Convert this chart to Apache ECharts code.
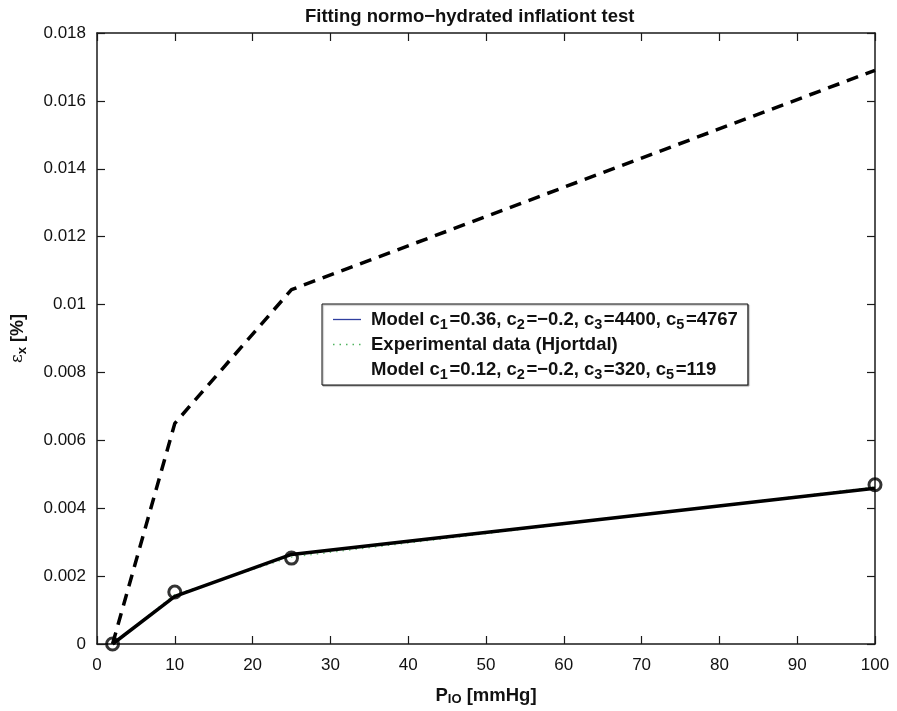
<!DOCTYPE html>
<html>
<head>
<meta charset="utf-8">
<script src="https://cdn.jsdelivr.net/npm/echarts@6/dist/echarts.min.js"></script>
<style>
  html, body { margin: 0; padding: 0; background: #fff; }
  #chart { width: 897px; height: 711px; }
</style>
</head>
<body>
<div id="chart"></div>
<script>
  // pressure values, mmHg
  var pressure = [2, 10, 25, 100];
  // model 1 (thick solid)
  var model1 = [0, 0.00140, 0.00264, 0.00459];
  // experimental data (green dotted + circles)
  var expLine = [0, 0.00146, 0.00256, 0.00463];
  var expPoints = [0, 0.00153, 0.00253, 0.00469];
  // model 2 (dashed)
  var model2 = [0, 0.0065, 0.01044, 0.0169];

  var name1 = 'Model c1=0.36, c2=\u22120.2, c3=4400, c5=4767';
  var name2 = 'Experimental data (Hjortdal)';
  var name3 = 'Model c1=0.12, c2=\u22120.2, c3=320, c5=119';
  var richNames = {};
  richNames[name1] = 'Model c{s|1}=0.36, c{s|2}=\u22120.2, c{s|3}=4400, c{s|5}=4767';
  richNames[name2] = 'Experimental data (Hjortdal){s| }';
  richNames[name3] = 'Model c{s|1}=0.12, c{s|2}=\u22120.2, c{s|3}=320, c{s|5}=119';

  function pairs(ys) {
    return pressure.map(function (x, i) { return [x, ys[i]]; });
  }

  var font = 'Liberation Sans, Arial, Helvetica, sans-serif';
  var axisLine = { onZero: false, lineStyle: { color: '#1a1a1a', width: 1.5 } };
  var axisTick = { inside: true, length: 8, lineStyle: { color: '#1a1a1a', width: 1.2 } };

  var chart = echarts.init(document.getElementById('chart'));
  chart.setOption({
    animation: false,
    textStyle: { fontFamily: font },
    // 标题
    title: {
      text: 'Fitting normo\u2212hydrated inflationt test',
      left: 300,
      top: 2,
      textStyle: { fontSize: 18.5, fontWeight: 'bold', color: '#111', fontFamily: font }
    },
    grid: {
      left: 97,
      right: 22,
      top: 33,
      bottom: 64
    },
    // 图例
    legend: {
      orient: 'vertical',
      left: 322,
      top: 304,
      padding: [3, 10, 3, 10],
      itemGap: 0,
      itemWidth: 28,
      itemHeight: 14,
      backgroundColor: '#fff',
      borderColor: '#111',
      borderWidth: 1,
      shadowColor: 'rgba(0,0,0,0.35)',
      shadowOffsetX: 1,
      shadowOffsetY: 1,
      shadowBlur: 1,
      selectedMode: false,
      formatter: function (n) { return richNames[n]; },
      textStyle: {
        fontSize: 18.5,
        lineHeight: 24,
        fontWeight: 'bold',
        color: '#111',
        fontFamily: font,
        padding: [0, 0, 0, 5],
        rich: {
          s: { fontSize: 14.5, lineHeight: 12, fontWeight: 'bold', padding: [10, 1.5, 0, 0], fontFamily: font }
        }
      },
      data: [
        { name: name1, itemStyle: { opacity: 0 }, lineStyle: { color: '#2f3f9f', width: 1.3, type: 'solid' } },
        { name: name2, itemStyle: { opacity: 0 }, lineStyle: { color: '#4fb35f', width: 1.5, type: [1.5, 5] } },
        { name: name3, itemStyle: { opacity: 0 }, lineStyle: { opacity: 0 } }
      ]
    },
    // X轴
    xAxis: [{
      type: 'value',
      min: 0,
      max: 100,
      interval: 10,
      name: 'P{s|IO} [mmHg]',
      nameLocation: 'middle',
      nameGap: 42,
      nameTextStyle: {
        fontSize: 18.5, fontWeight: 'bold', color: '#111', fontFamily: font,
        rich: { s: { fontSize: 13, fontWeight: 'bold', padding: [0, 0, -8, 0], fontFamily: font } }
      },
      axisLine: axisLine,
      axisTick: axisTick,
      axisLabel: { fontSize: 17, color: '#111', margin: 13 },
      splitLine: { show: false }
    }, {
      type: 'value',
      position: 'top',
      min: 0,
      max: 100,
      interval: 10,
      axisLine: axisLine,
      axisTick: axisTick,
      axisLabel: { show: false },
      splitLine: { show: false }
    }],
    // Y轴
    yAxis: [{
      type: 'value',
      min: 0,
      max: 0.018,
      interval: 0.002,
      name: '{e|\u03b5}{s|x} [%]',
      nameLocation: 'middle',
      nameRotate: 90,
      nameGap: 70,
      nameTextStyle: {
        fontSize: 18, fontWeight: 'bold', color: '#111', fontFamily: font,
        rich: {
          e: { fontSize: 17, fontWeight: 'normal', fontFamily: 'DejaVu Serif, serif' },
          s: { fontSize: 13, fontWeight: 'bold', padding: [0, 0, -8, 0], fontFamily: font }
        }
      },
      axisLine: axisLine,
      axisTick: axisTick,
      axisLabel: {
        fontSize: 17,
        color: '#111',
        margin: 11,
        formatter: function (v) { return String(parseFloat(v.toFixed(3))); }
      },
      splitLine: { show: false }
    }, {
      type: 'value',
      position: 'right',
      min: 0,
      max: 0.018,
      interval: 0.002,
      axisLine: axisLine,
      axisTick: axisTick,
      axisLabel: { show: false },
      splitLine: { show: false }
    }],
    series: [{
      name: name1,
      type: 'line',
      symbol: 'none',
      lineStyle: { color: '#000', width: 3.5 },
      z: 3,
      data: pairs(model1)
    }, {
      name: name2,
      type: 'line',
      symbol: 'none',
      lineStyle: { color: '#5fbf6f', width: 1.2, type: [1.5, 5] },
      z: 2,
      data: pairs(expLine)
    }, {
      name: name3,
      type: 'line',
      symbol: 'none',
      lineStyle: { color: '#000', width: 3.5, type: [12, 8] },
      z: 3,
      data: pairs(model2)
    }, {
      name: 'points',
      type: 'scatter',
      symbol: 'circle',
      symbolSize: 12,
      itemStyle: { color: 'rgba(255,255,255,0)', borderColor: '#000', borderWidth: 3 },
      z: 4,
      data: pairs(expPoints)
    }]
  });
</script>
</body>
</html>
